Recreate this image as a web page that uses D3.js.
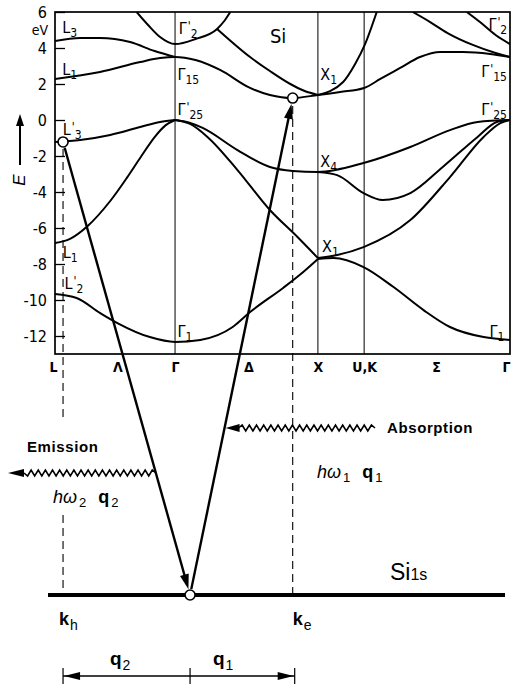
<!DOCTYPE html>
<meta charset="utf-8">
<script src="https://cdn.jsdelivr.net/npm/d3@7"></script>
<style type="text/css">
    body { margin: 0; background: #fff; }
    svg { display: block; }
    .lab, .tick text {
        font-family: "Liberation Sans Narrow", "DejaVu Sans Condensed", Arial, sans-serif;
    }
    .txt { font-family: "Liberation Sans", Arial, Helvetica, sans-serif; }
</style>
<body>
<script type="text/javascript">
    // ---- data: k in path units (L=0, Gamma=1, X=2.19, U,K=2.575, Gamma=3.79), E in eV
    var symPoints = [
        { label: "L", k: 0 }, { label: "Λ", k: 0.52 }, { label: "Γ", k: 1 },
        { label: "Δ", k: 1.61 }, { label: "X", k: 2.19 }, { label: "U,K", k: 2.575 },
        { label: "Σ", k: 3.175 }, { label: "Γ", k: 3.79 }
    ];
    var symLines = [1, 2.19, 2.575];
    var eTicks = [6, 4, 2, 0, -2, -4, -6, -8, -10, -12];

    // valence bands
    var bandL2G1X1 = [[0, -9.67], [0.18, -9.89], [0.375, -10.72], [0.52, -11.28], [0.79, -12.06], [1, -12.33],
        [1.21, -12.22], [1.48, -11.5], [1.625, -10.67], [1.9, -9.33], [2.04, -8.6], [2.19, -7.72]];
    var bandL1G25 = [[0, -6.83], [0.125, -6.6], [0.27, -5.9], [0.46, -4.5], [0.6, -3.2], [0.72, -2.0],
        [0.83, -0.95], [0.92, -0.3], [1, 0]];
    var bandL3G25 = [[0, -1.22], [0.21, -1.11], [0.46, -0.83], [0.71, -0.39], [0.875, -0.11], [1, 0]];
    var bandG25X4G25 = [[1, 0], [1.12, -0.15], [1.23, -0.44], [1.52, -1.67], [1.79, -2.61], [1.98, -2.83],
        [2.19, -2.89], [2.57, -2.39], [2.96, -1.5], [3.29, -0.56], [3.52, -0.11], [3.79, 0]];
    var bandG25X1 = [[1, 0], [1.125, -0.22], [1.27, -0.94], [1.52, -2.78], [1.79, -5.0], [2.02, -6.5], [2.19, -7.67]];
    var bandX1G25 = [[2.19, -7.67], [2.35, -7.5], [2.57, -7.06], [2.96, -5.56], [3.29, -3.17], [3.57, -0.94],
        [3.71, -0.17], [3.79, 0]];
    var bandX4G25 = [[2.19, -2.89], [2.35, -3.06], [2.57, -4.06], [2.73, -4.44], [2.96, -4.06], [3.23, -2.61],
        [3.52, -0.94], [3.68, -0.11], [3.79, 0]];
    var bandX1G1 = [[2.19, -7.72], [2.32, -7.67], [2.57, -8.17], [2.82, -9.28], [3.07, -10.56], [3.29, -11.5],
        [3.57, -12.06], [3.79, -12.22]];

    // conduction bands
    var bandL1G15 = [[0, 2.28], [0.375, 2.67], [0.71, 3.22], [0.875, 3.44], [1, 3.5], [1.17, 3.33], [1.375, 2.78],
        [1.625, 1.78], [1.79, 1.39], [1.975, 1.22], [2.19, 1.39], [2.375, 1.56], [2.575, 1.78], [2.71, 2.28],
        [2.875, 2.89], [3.04, 3.5], [3.21, 3.78], [3.4, 3.78], [3.625, 3.67], [3.79, 3.5]];
    var bandL3G15 = [[0, 4.39], [0.21, 4.56], [0.375, 4.56], [0.625, 4.33], [0.83, 3.83], [1, 3.5]];
    var bandG2 = [[0.68, 6.0], [0.775, 5.28], [0.875, 4.61], [1, 4.22], [1.17, 4.5], [1.35, 5.06], [1.41, 5.5], [1.46, 6.0]];
    var bandToX1 = [[1.35, 5.06], [1.625, 3.5], [1.79, 2.72], [1.96, 2.0], [2.08, 1.61], [2.19, 1.39]];
    var bandX1Up = [[2.19, 1.39], [2.4, 2.11], [2.5, 3.11], [2.58, 4.17], [2.68, 6.0]];
    var bandTopG15 = [[2.98, 6.0], [3.125, 5.44], [3.27, 4.83], [3.48, 4.17], [3.67, 3.72], [3.79, 3.5]];
    var bandTopG2 = [[3.43, 6.0], [3.54, 5.44], [3.67, 4.72], [3.79, 4.22]];

    var bands = [bandL2G1X1, bandL1G25, bandL3G25, bandG25X4G25, bandG25X1, bandX1G25, bandX4G25, bandX1G1,
        bandL1G15, bandL3G15, bandG2, bandToX1, bandX1Up, bandTopG15, bandTopG2];

    // point labels [main, sub, prime, k, E]
    var bandLabels = [
        ["L", "3", false, 0.06, 4.83], ["L", "1", false, 0.06, 2.5], ["L", "3", true, 0.065, -0.85],
        ["L", "1", false, 0.065, -7.67], ["L", "2", true, 0.08, -9.4],
        ["Γ", "2", true, 1.03, 4.8], ["Γ", "15", false, 1.02, 2.22], ["Γ", "25", true, 1.02, 0.3],
        ["Γ", "1", false, 1.02, -12.06],
        ["X", "1", false, 2.21, 2.25], ["X", "4", false, 2.21, -2.6], ["X", "1", false, 2.225, -7.33],
        ["Γ", "2", true, 3.61, 5.0], ["Γ", "15", true, 3.55, 2.4], ["Γ", "25", true, 3.55, 0.3],
        ["Γ", "1", false, 3.62, -12.06]
    ];

    // transition: hole at L3', electron at conduction minimum, core state Si 1s
    var hole = { k: 0.067, E: -1.22 };
    var electron = { k: 1.98, E: 1.22 };
    var kCore = 1.125;

    // ---- layout
    var width = 514, height = 685;
    var plot = { left: 55, right: 510, top: 12, bottom: 354 };
    var coreY = 595, absY = 428, emiY = 473, bracketY = 676;

    var x = d3.scaleLinear().domain([0, 3.79]).range([plot.left, plot.right]);
    var y = d3.scaleLinear().domain([-13, 6]).range([plot.bottom, plot.top]);

    var svg = d3.select("body").append("svg")
        .attr("width", width)
        .attr("height", height);

    svg.append("clipPath").attr("id", "clip")
        .append("rect")
        .attr("x", plot.left).attr("y", plot.top)
        .attr("width", plot.right - plot.left).attr("height", plot.bottom - plot.top);

    // symmetry lines
    svg.selectAll(".sym").data(symLines).enter().append("line")
        .attr("x1", x).attr("x2", x)
        .attr("y1", plot.top).attr("y2", plot.bottom)
        .attr("stroke", "#000").attr("stroke-width", 1);

    // dashed k lines
    var dash = "8,5";
    function vdash(xp, y1, y2) {
        svg.append("line").attr("x1", xp).attr("x2", xp).attr("y1", y1).attr("y2", y2)
            .attr("stroke", "#000").attr("stroke-width", 1.1).attr("stroke-dasharray", dash);
    }
    vdash(x(hole.k), y(hole.E) + 7, 418);
    vdash(x(hole.k), 515, coreY);
    vdash(x(electron.k), y(electron.E) + 8, coreY);

    // bands
    var line = d3.line()
        .x(function (d) { return x(d[0]); })
        .y(function (d) { return y(d[1]); })
        .curve(d3.curveMonotoneX);

    svg.append("g").attr("clip-path", "url(#clip)")
        .selectAll("path").data(bands).enter().append("path")
        .attr("d", line)
        .attr("fill", "none")
        .attr("stroke", "#000")
        .attr("stroke-width", 2);

    // frame
    svg.append("rect")
        .attr("x", plot.left).attr("y", plot.top)
        .attr("width", plot.right - plot.left).attr("height", plot.bottom - plot.top)
        .attr("fill", "none").attr("stroke", "#000").attr("stroke-width", 1.7);

    // axes
    var yAxis = svg.append("g")
        .attr("transform", "translate(" + plot.left + ",0)")
        .call(d3.axisLeft(y).tickValues(eTicks).tickFormat(String)
            .tickSizeInner(-10).tickSizeOuter(0).tickPadding(8));
    yAxis.select(".domain").remove();
    yAxis.selectAll(".tick line").attr("stroke-width", 1.3);
    yAxis.selectAll(".tick text").style("font-size", "16px").attr("fill", "#000");

    var xAxis = svg.append("g")
        .attr("transform", "translate(0," + plot.bottom + ")")
        .call(d3.axisBottom(x).tickValues(symPoints.map(function (d) { return d.k; }))
            .tickFormat(function (d, i) { return symPoints[i].label; })
            .tickSize(0).tickPadding(8));
    xAxis.select(".domain").remove();
    xAxis.selectAll(".tick text").style("font-size", "14px").style("font-weight", "bold").attr("fill", "#000")
        .attr("dx", function (d, i) { return i == 0 ? -2 : (i == symPoints.length - 1 ? -4 : 0); });

    svg.append("text").attr("class", "lab").attr("x", 48).attr("y", 35)
        .style("text-anchor", "end").style("font-size", "14px").text("eV");

    // energy arrow
    svg.append("line").attr("x1", 20).attr("x2", 20).attr("y1", 165).attr("y2", 124)
        .attr("stroke", "#000").attr("stroke-width", 2);
    svg.append("path").attr("d", "M20,114L16,126L24,126Z").attr("fill", "#000");
    svg.append("text").attr("class", "txt")
        .attr("transform", "translate(25,180) rotate(-90)")
        .style("text-anchor", "middle").style("font-size", "17px").style("font-style", "italic")
        .text("E");

    // band labels
    bandLabels.forEach(function (d) {
        var t = svg.append("text").attr("class", "lab")
            .attr("x", x(d[3])).attr("y", y(d[4]))
            .style("font-size", "16px");
        t.append("tspan").text(d[0]);
        if (d[2]) {
            t.append("tspan").attr("dx", 1).attr("dy", -4).style("font-size", "12px").text("'");
            t.append("tspan").attr("dy", 8).style("font-size", "12px").text(d[1]);
        } else {
            t.append("tspan").attr("dy", 4).style("font-size", "12px").text(d[1]);
        }
    });

    svg.append("text").attr("class", "lab").attr("x", x(1.79)).attr("y", y(4.28))
        .style("font-size", "20px").text("Si");

    // ---- transition diagram
    function arrowHead(tip, ux, uy, len, half) {
        var bx = tip[0] - ux * len, by = tip[1] - uy * len;
        svg.append("path")
            .attr("d", "M" + tip[0] + "," + tip[1] +
                "L" + (bx - uy * half) + "," + (by + ux * half) +
                "L" + (bx + uy * half) + "," + (by - ux * half) + "Z")
            .attr("fill", "#000");
        return [bx, by];
    }

    function transition(p0, p1, r) {
        var dx = p1[0] - p0[0], dy = p1[1] - p0[1], L = Math.sqrt(dx * dx + dy * dy);
        var ux = dx / L, uy = dy / L;
        var tip = [p1[0] - ux * r, p1[1] - uy * r];
        var base = arrowHead(tip, ux, uy, 15, 4.5);
        svg.append("line")
            .attr("x1", p0[0] + ux * r).attr("y1", p0[1] + uy * r)
            .attr("x2", base[0] + ux * 2).attr("y2", base[1] + uy * 2)
            .attr("stroke", "#000").attr("stroke-width", 2.4);
    }

    function xAt(p0, p1, yy) {
        return p0[0] + (yy - p0[1]) / (p1[1] - p0[1]) * (p1[0] - p0[0]);
    }

    function zigzag(xStart, xEnd, yy) {
        var pts = [], n = Math.round(Math.abs(xStart - xEnd) / 3.6), step = (xEnd - xStart) / n;
        for (var i = 0; i <= n; i++) pts.push([xStart + i * step, yy + (i % 2 ? -3 : 3)]);
        pts[0][1] = yy; pts[n][1] = yy;
        svg.append("path").attr("d", d3.line()(pts))
            .attr("fill", "none").attr("stroke", "#000").attr("stroke-width", 1.6);
    }

    var pHole = [x(hole.k), y(hole.E)];
    var pElec = [x(electron.k), y(electron.E)];
    var pCore = [x(kCore), coreY];

    // Si 1s level
    svg.append("line").attr("x1", 48).attr("x2", 505).attr("y1", coreY).attr("y2", coreY)
        .attr("stroke", "#000").attr("stroke-width", 4);

    transition(pHole, pCore, 6);
    transition(pCore, pElec, 6);

    // absorption wave
    var absTip = xAt(pCore, pElec, absY);
    arrowHead([absTip + 1, absY], -1, 0, 14, 4);
    zigzag(375, absTip + 14, absY);

    // emission wave
    var emiStart = xAt(pHole, pCore, emiY);
    arrowHead([8, emiY], -1, 0, 16, 4);
    zigzag(emiStart, 24, emiY);

    // circles
    svg.selectAll(".pt").data([pHole, pElec, pCore]).enter().append("circle")
        .attr("cx", function (d) { return d[0]; })
        .attr("cy", function (d) { return d[1]; })
        .attr("r", 5)
        .attr("fill", "#fff").attr("stroke", "#000").attr("stroke-width", 1.6);

    svg.append("text").attr("class", "txt").attr("x", 387).attr("y", 433)
        .style("font-size", "15px").style("font-weight", "bold").style("letter-spacing", "0.6px")
        .text("Absorption");
    svg.append("text").attr("class", "txt").attr("x", 27).attr("y", 452)
        .style("font-size", "15px").style("font-weight", "bold").style("letter-spacing", "0.6px")
        .text("Emission");

    function photon(xp, yp, n) {
        var t = svg.append("text").attr("class", "txt").attr("x", xp).attr("y", yp).style("font-size", "18px");
        t.append("tspan").style("font-style", "italic").text("hω");
        t.append("tspan").attr("dx", 2).attr("dy", 4).style("font-size", "13px").text(n);
        t.append("tspan").attr("dx", 12).attr("dy", -4).style("font-weight", "bold").text("q");
        t.append("tspan").attr("dx", 2).attr("dy", 4).style("font-size", "13px").text(n);
    }
    photon(317, 478, "1");
    photon(53, 503, "2");

    function vecLabel(xp, yp, main, sub, size) {
        var t = svg.append("text").attr("class", "txt").attr("x", xp).attr("y", yp).style("font-size", size + "px");
        t.append("tspan").style("font-weight", "bold").text(main);
        t.append("tspan").attr("dx", 1).attr("dy", 5).style("font-size", "14px").text(sub);
    }
    vecLabel(x(hole.k) - 4, 625, "k", "h", 18);
    vecLabel(x(electron.k), 625, "k", "e", 18);
    vecLabel(110, 665, "q", "2", 19);
    vecLabel(213, 665, "q", "1", 19);

    var si = svg.append("text").attr("class", "txt").attr("x", 390).attr("y", 580).style("font-size", "23px");
    si.append("tspan").text("Si");
    si.append("tspan").style("font-size", "16px").text("1s");

    // q bracket
    var bx0 = x(hole.k), bx1 = pCore[0], bx2 = x(electron.k) + 2;
    svg.append("line").attr("x1", bx0).attr("x2", bx2).attr("y1", bracketY).attr("y2", bracketY)
        .attr("stroke", "#000").attr("stroke-width", 1.4);
    [bx0, bx1, bx2].forEach(function (xx) {
        svg.append("line").attr("x1", xx).attr("x2", xx).attr("y1", bracketY - 8).attr("y2", bracketY + 8)
            .attr("stroke", "#000").attr("stroke-width", 1.2);
    });
    arrowHead([bx0 + 1, bracketY], -1, 0, 16, 4);
    arrowHead([bx2 - 1, bracketY], 1, 0, 16, 4);
</script>
</body>
